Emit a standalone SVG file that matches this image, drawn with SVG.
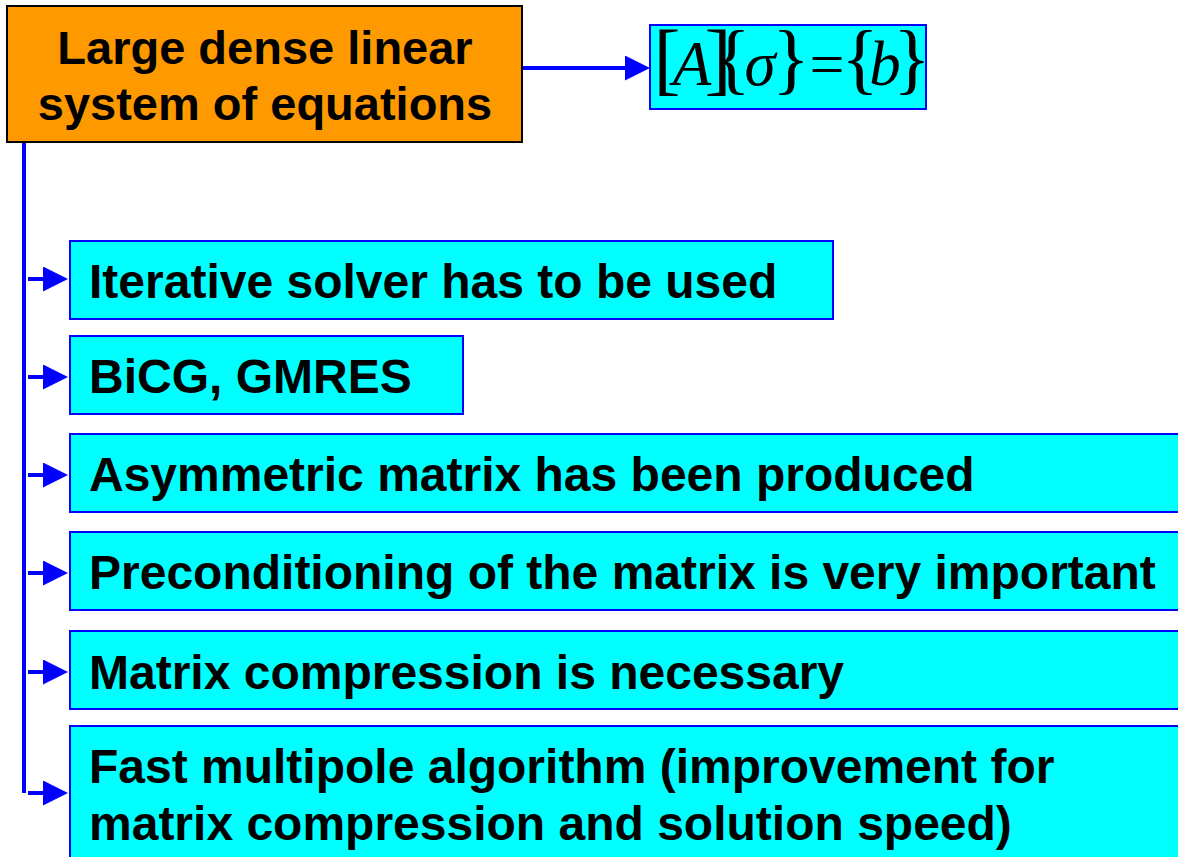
<svg xmlns="http://www.w3.org/2000/svg" width="1178" height="857" viewBox="0 0 1178 857">
<style>
.hdr{fill:#FF9900;stroke:#000;stroke-width:2}
.box{fill:#00FFFF;stroke:#0000FF;stroke-width:2}
.t{font-family:"Liberation Sans",Arial,sans-serif;font-weight:bold;font-size:48px;fill:#000}
.ht{font-family:"Liberation Sans",Arial,sans-serif;font-weight:bold;font-size:47px;fill:#000;text-anchor:middle}
.m{font-family:"Liberation Serif","Times New Roman",serif;fill:#000;text-anchor:middle}
.it{font-style:italic;font-size:63px}
.br{font-size:78px}
.sq{font-size:81px}
.eq{font-size:62px}
.c{stroke:#0000FF;stroke-width:4;fill:none}
</style>
<defs>
<marker id="ah" markerUnits="userSpaceOnUse" markerWidth="25" markerHeight="25" refX="7" refY="12.5" orient="auto">
<path d="M0,0 L25,12.5 L0,25 Z" fill="#0000FF"/>
</marker>
</defs>
<rect width="1178" height="857" fill="#fff"/>
<g id="connectors">
<line class="c" x1="522" y1="68" x2="632" y2="68" marker-end="url(#ah)"/>
<line class="c" x1="24" y1="142" x2="24" y2="793"/>
<line class="c" x1="28" y1="279" x2="50" y2="279" marker-end="url(#ah)"/>
<line class="c" x1="28" y1="377" x2="50" y2="377" marker-end="url(#ah)"/>
<line class="c" x1="28" y1="475" x2="50" y2="475" marker-end="url(#ah)"/>
<line class="c" x1="28" y1="573" x2="50" y2="573" marker-end="url(#ah)"/>
<line class="c" x1="28" y1="672" x2="50" y2="672" marker-end="url(#ah)"/>
<line class="c" x1="28" y1="793" x2="50" y2="793" marker-end="url(#ah)"/>
</g>
<g id="header">
<rect class="hdr" x="7" y="6" width="515" height="136"/>
<text class="ht" x="265" y="64">Large dense linear</text>
<text class="ht" x="265" y="120">system of equations</text>
</g>
<g id="equation">
<rect class="box" x="650" y="25" width="276" height="84"/>
<text class="m"><tspan class="sq" x="667" y="85">[</tspan><tspan class="it" x="692" y="85">A</tspan><tspan class="sq" x="718" y="85">]</tspan><tspan class="br" x="732" y="85">{</tspan><tspan class="it" x="760" y="85">σ</tspan><tspan class="br" x="791" y="85">}</tspan><tspan class="eq" x="827" y="85">=</tspan><tspan class="br" x="860" y="85">{</tspan><tspan class="it" x="885" y="85">b</tspan><tspan class="br" x="912" y="85">}</tspan></text>
</g>
<g id="item1">
<rect class="box" x="70" y="241" width="763" height="78"/>
<text class="t" x="89" y="298">Iterative solver has to be used</text>
</g>
<g id="item2">
<rect class="box" x="70" y="336" width="393" height="78"/>
<text class="t" x="89" y="393">BiCG, GMRES</text>
</g>
<g id="item3">
<rect class="box" x="70" y="434" width="1120" height="78"/>
<text class="t" x="89" y="491">Asymmetric matrix has been produced</text>
</g>
<g id="item4">
<rect class="box" x="70" y="532" width="1120" height="78"/>
<text class="t" x="89" y="589">Preconditioning of the matrix is very important</text>
</g>
<g id="item5">
<rect class="box" x="70" y="631" width="1120" height="78"/>
<text class="t" x="89" y="689">Matrix compression is necessary</text>
</g>
<g id="item6">
<rect class="box" x="70" y="726" width="1120" height="145"/>
<text class="t" x="89" y="783">Fast multipole algorithm (improvement for</text>
<text class="t" x="89" y="840">matrix compression and solution speed)</text>
</g>
</svg>
